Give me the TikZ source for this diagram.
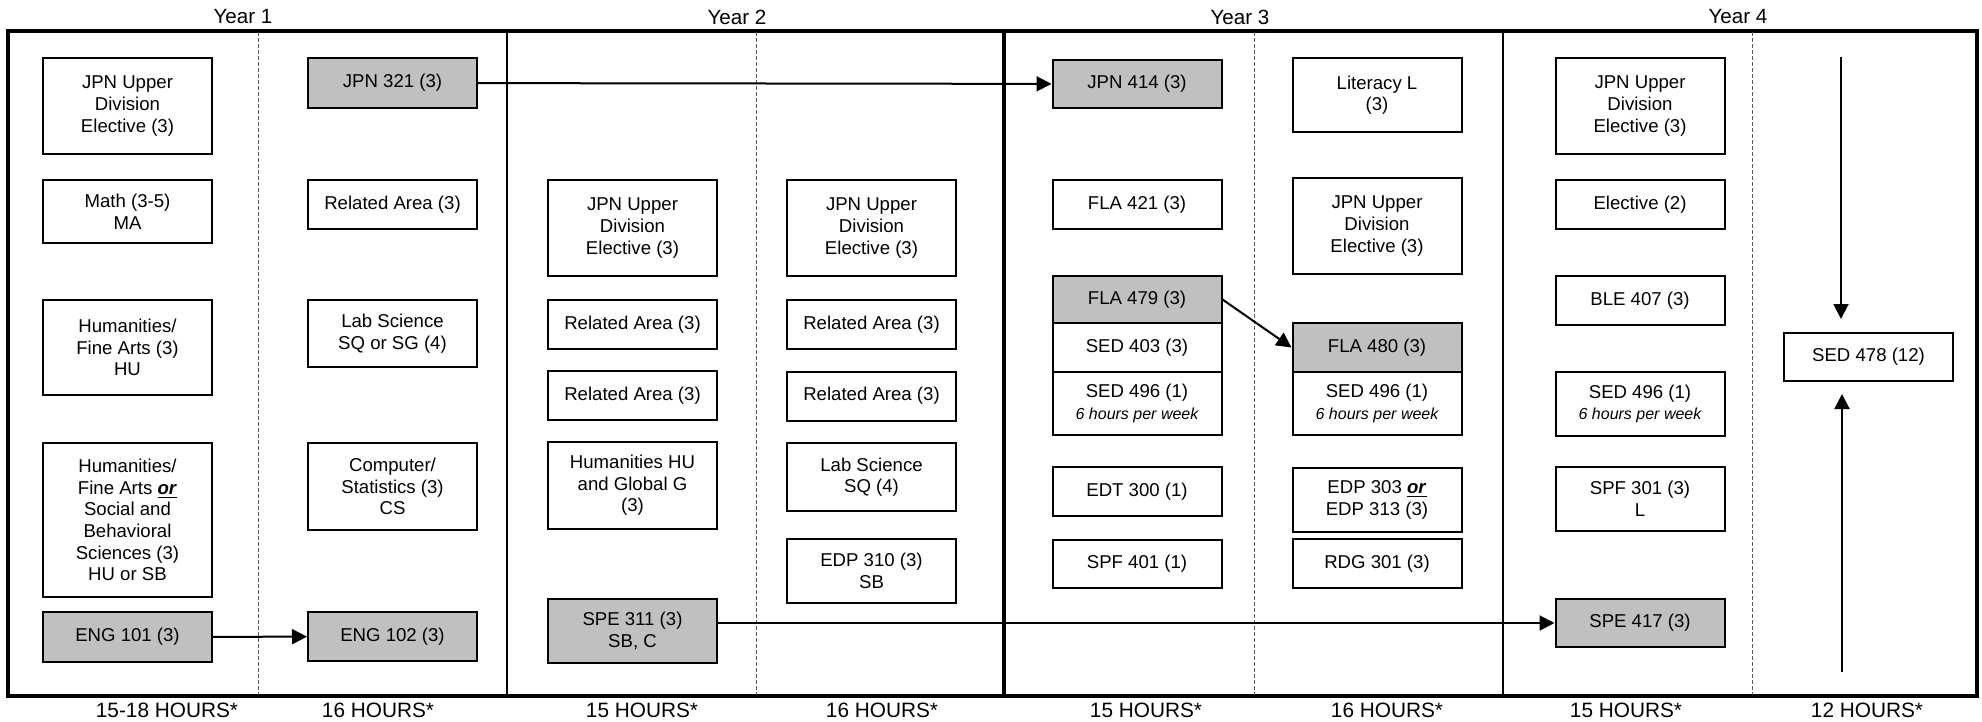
\documentclass[tikz,border=0pt]{standalone}
\usepackage{fontspec}
\setmainfont{Liberation Sans}
\usepackage{tikz}
\usetikzlibrary{arrows.meta, positioning, calc}
\definecolor{coregray}{RGB}{192,192,192}
\definecolor{gridgray}{RGB}{90,90,90}
\newcommand{\coursefont}{\fontsize{9.3}{10.8}\selectfont}
\newcommand{\notefont}{\fontsize{8}{9.4}\selectfont\itshape}
\newcommand{\orword}{\underline{\textbf{\textit{or}}}}
\tikzset{
  course/.style={rectangle, draw=black, line width=1pt,
    minimum width=84.5pt, inner sep=1pt, align=center, font=\coursefont},
  core/.style={course, fill=coregray},
  yearlbl/.style={font=\fontsize{10.3}{12}\selectfont, inner sep=0pt},
  hourlbl/.style={font=\fontsize{10.4}{12}\selectfont, inner sep=0pt},
  arr/.style={-{Triangle[length=7.5pt, width=7.5pt]}, line width=1pt},
  semline/.style={gridgray, line width=0.5pt, dash pattern=on 2pt off 1pt}
}

\begin{document}
\begin{tikzpicture}[x=0.5pt, y=-0.5pt]
  \useasboundingbox (0,0) rectangle (1982,722);

  % Frame and year columns
  \draw[line width=2pt] (8,31) rectangle (1977,696);
  \draw[line width=1pt] (507,31) -- (507,696);
  \draw[line width=2pt] (1004,31) -- (1004,696);
  \draw[line width=1pt] (1503,31) -- (1503,696);
  \foreach \sx in {258, 756, 1254, 1752}
    \draw[semline] (\sx,32) -- (\sx,695);

  % Year titles
  \node[yearlbl] (year1) at (243,17) {Year 1};
  \node[yearlbl] (year2) at (737,17) {Year 2};
  \node[yearlbl] (year3) at (1240,17) {Year 3};
  \node[yearlbl] (year4) at (1738,17) {Year 4};

  % Year 1, first semester
  \node[course, minimum height=48pt] (ue1) at (127.5,106) {JPN Upper\\Division\\Elective (3)};
  \node[course, minimum height=31.5pt] (math) at (127.5,211.5) {Math (3-5)\\MA};
  \node[course, minimum height=47.5pt] (hufa) at (127.5,347.5) {Humanities/\\Fine Arts (3)\\HU};
  \node[course, minimum height=77pt] (husb) at (127.5,520) {Humanities/\\Fine Arts \orword\\Social and\\Behavioral\\Sciences (3)\\HU or SB};
  \node[core, minimum height=25pt] (eng101) at (127.5,637) {ENG 101 (3)};

  % Year 1, second semester
  \node[core, minimum height=25pt] (jpn321) at (392.5,83) {JPN 321 (3)};
  \node[course, minimum height=24.5pt] (rel1) at (392.5,204.5) {Related Area (3)};
  \node[course, minimum height=33.5pt] (lab1) at (392.5,333.5) {Lab Science\\SQ or SG (4)};
  \node[course, minimum height=43.5pt] (comp) at (392.5,486.5) {Computer/\\Statistics (3)\\CS};
  \node[core, minimum height=24.5pt] (eng102) at (392.5,636.5) {ENG 102 (3)};

  % Year 2, first semester
  \node[course, minimum height=48pt] (ue2) at (632.5,228) {JPN Upper\\Division\\Elective (3)};
  \node[course, minimum height=24.5pt] (rel2) at (632.5,324.5) {Related Area (3)};
  \node[course, minimum height=24.5pt] (rel3) at (632.5,395.5) {Related Area (3)};
  \node[course, minimum height=43.5pt] (hug) at (632.5,485.5) {Humanities HU\\and Global G\\(3)};
  \node[core, minimum height=32pt] (spe311) at (632.5,631) {SPE 311 (3)\\SB, C};

  % Year 2, second semester
  \node[course, minimum height=48pt] (ue3) at (871.5,228) {JPN Upper\\Division\\Elective (3)};
  \node[course, minimum height=24.5pt] (rel4) at (871.5,324.5) {Related Area (3)};
  \node[course, minimum height=24.5pt] (rel5) at (871.5,396) {Related Area (3)};
  \node[course, minimum height=34pt] (lab2) at (871.5,477) {Lab Science\\SQ (4)};
  \node[course, minimum height=32pt] (edp310) at (871.5,571) {EDP 310 (3)\\SB};

  % Year 3, first semester
  \node[core, minimum height=24pt] (jpn414) at (1137,84) {JPN 414 (3)};
  \node[course, minimum height=24.5pt] (fla421) at (1137,204.5) {FLA 421 (3)};
  \node[core, minimum height=23.5pt] (fla479) at (1137,299.5) {FLA 479 (3)};
  \node[course, minimum height=24.5pt] (sed403) at (1137,347.5) {SED 403 (3)};
  \node[course, minimum height=31.5pt] (sed496a) at (1137,403.5) {SED 496 (1)\\{\notefont 6 hours per week}};
  \node[course, minimum height=24.5pt] (edt300) at (1137,491.5) {EDT 300 (1)};
  \node[course, minimum height=24pt] (spf401) at (1137,564) {SPF 401 (1)};

  % Year 3, second semester
  \node[course, minimum height=37pt] (lit) at (1377,95) {Literacy L\\(3)};
  \node[course, minimum height=48pt] (ue4) at (1377,226) {JPN Upper\\Division\\Elective (3)};
  \node[core, minimum height=24.5pt] (fla480) at (1377,347.5) {FLA 480 (3)};
  \node[course, minimum height=31.5pt] (sed496b) at (1377,403.5) {SED 496 (1)\\{\notefont 6 hours per week}};
  \node[course, minimum height=32pt] (edp303) at (1377,500) {EDP 303 \orword\\EDP 313 (3)};
  \node[course, minimum height=24.5pt] (rdg301) at (1377,563.5) {RDG 301 (3)};

  % Year 4, first semester
  \node[course, minimum height=48pt] (ue5) at (1640,106) {JPN Upper\\Division\\Elective (3)};
  \node[course, minimum height=24.5pt] (elec) at (1640,204.5) {Elective (2)};
  \node[course, minimum height=24.5pt] (ble407) at (1640,300.5) {BLE 407 (3)};
  \node[course, minimum height=32pt] (sed496c) at (1640,404) {SED 496 (1)\\{\notefont 6 hours per week}};
  \node[course, minimum height=32pt] (spf301) at (1640,499) {SPF 301 (3)\\L};
  \node[core, minimum height=24pt] (spe417) at (1640,623) {SPE 417 (3)};

  % Year 4, second semester
  \node[course, minimum height=24pt] (sed478) at (1868.5,357) {SED 478 (12)};
  \coordinate (stop) at (1841,57);
  \coordinate (sbot) at (1842,672);

  % Prerequisite arrows
  \draw[arr] (jpn321) -- (jpn414);
  \draw[arr] (eng101) -- (eng102);
  \draw[arr] (spe311.east |- spe417) -- (spe417);
  \draw[arr] (fla479.east) -- (fla480.west);
  \draw[arr, shorten >=6.5pt] (stop) -- (stop |- sed478.north);
  \draw[arr, shorten >=6pt] (sbot) -- (sbot |- sed478.south);

  % Semester hours
  \node[hourlbl] (hours1) at (167,710) {15-18 HOURS*};
  \node[hourlbl] (hours2) at (378,710) {16 HOURS*};
  \node[hourlbl] (hours3) at (642,710) {15 HOURS*};
  \node[hourlbl] (hours4) at (882,710) {16 HOURS*};
  \node[hourlbl] (hours5) at (1146,710) {15 HOURS*};
  \node[hourlbl] (hours6) at (1387,710) {16 HOURS*};
  \node[hourlbl] (hours7) at (1626,710) {15 HOURS*};
  \node[hourlbl] (hours8) at (1867,710) {12 HOURS*};
\end{tikzpicture}
\end{document}
